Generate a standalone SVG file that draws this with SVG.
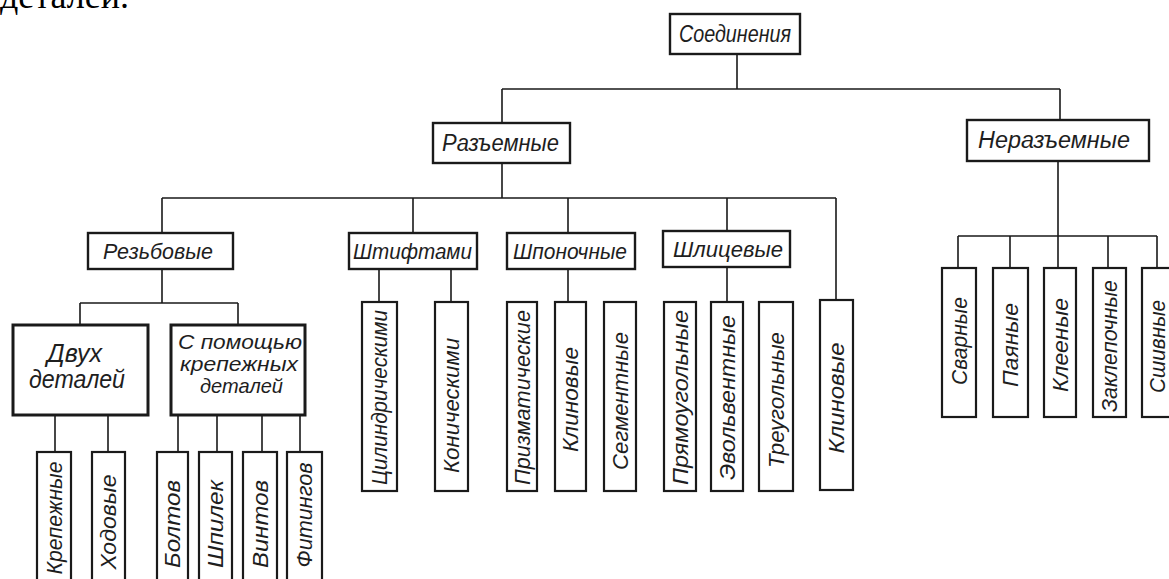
<svg xmlns="http://www.w3.org/2000/svg" width="1169" height="579" viewBox="0 0 1169 579">
<style>
.box{fill:#fff;stroke:#1a1a1a;stroke-width:2.4}
.bx{fill:#fff;stroke:#1a1a1a;stroke-width:3}
.lf{fill:#fff;stroke:#1a1a1a;stroke-width:2.2}
.c{fill:none;stroke:#1a1a1a;stroke-width:1.6}
.t{font-family:"Liberation Sans","DejaVu Sans",sans-serif;font-style:italic;fill:#1e1e1e;text-anchor:middle}
.v{dominant-baseline:central}
</style>
<rect width="1169" height="579" fill="#fff"/>
<text x="0" y="8" font-family="Liberation Serif, serif" font-size="36" fill="#000">деталей.</text>

<g id="connectors">
<path class="c" d="M737,54V89M502,89H1060M502,89V123M1060,89V120"/>
<path class="c" d="M502,163V198M162,198H836M162,198V233M413,198V233M568,198V233M727,198V231M836,198V300"/>
<path class="c" d="M162,269V303M80,303H238M80,303V325M238,303V325"/>
<path class="c" d="M55,415V452M108,415V452M178,415V452M217,415V452M262,415V452M300,415V452"/>
<path class="c" d="M379,269V302M451,269V302M568,269V302M727,267V302"/>
<path class="c" d="M1058,161V236M958,236H1157M958,236V268M1010,236V268M1058,236V268M1108,236V268M1157,236V268"/>
</g>

<g id="n-root"><rect class="box" x="670" y="14" width="130" height="40"/><text class="t" font-size="23" x="735" y="42" textLength="112" lengthAdjust="spacingAndGlyphs">Соединения</text></g>
<g id="n-razem"><rect class="box" x="433" y="123" width="137" height="40"/><text class="t" font-size="23" x="500.5" y="151" textLength="117" lengthAdjust="spacingAndGlyphs">Разъемные</text></g>
<g id="n-nerazem"><rect class="box" x="967" y="120" width="182" height="41"/><text class="t" font-size="23" x="1054" y="148" textLength="152" lengthAdjust="spacingAndGlyphs">Неразъемные</text></g>

<g id="n-rezb"><rect class="box" x="88" y="233" width="145" height="36"/><text class="t" font-size="22" x="158" y="259" textLength="110" lengthAdjust="spacingAndGlyphs">Резьбовые</text></g>
<g id="n-shtift"><rect class="box" x="349" y="233" width="128" height="36"/><text class="t" font-size="22" x="412.5" y="259" textLength="119" lengthAdjust="spacingAndGlyphs">Штифтами</text></g>
<g id="n-shpon"><rect class="box" x="507" y="233" width="128" height="36"/><text class="t" font-size="22" x="570" y="259" textLength="114" lengthAdjust="spacingAndGlyphs">Шпоночные</text></g>
<g id="n-shlic"><rect class="box" x="663" y="231" width="127" height="36"/><text class="t" font-size="22" x="728" y="257" textLength="110" lengthAdjust="spacingAndGlyphs">Шлицевые</text></g>

<g id="n-dvuh"><rect class="bx" x="13" y="325" width="135" height="90"/><text class="t" font-size="25" x="74.5" y="362" textLength="55" lengthAdjust="spacingAndGlyphs">Двух</text><text class="t" font-size="25" x="77" y="388" textLength="96" lengthAdjust="spacingAndGlyphs">деталей</text></g>
<g id="n-spom"><rect class="bx" x="171" y="325" width="134" height="90"/><text class="t" font-size="21" x="240" y="349" textLength="124" lengthAdjust="spacingAndGlyphs">С помощью</text><text class="t" font-size="21" x="239" y="371" textLength="118" lengthAdjust="spacingAndGlyphs">крепежных</text><text class="t" font-size="21" x="241.5" y="393" textLength="83" lengthAdjust="spacingAndGlyphs">деталей</text></g>

<g id="n-krep"><rect class="lf" x="37" y="452" width="34" height="140"/><text class="t v" font-size="22" transform="translate(54,518) rotate(-90)" textLength="113" lengthAdjust="spacingAndGlyphs">Крепежные</text></g>
<g id="n-hod"><rect class="lf" x="92" y="452" width="33" height="140"/><text class="t v" font-size="22" transform="translate(108.5,522) rotate(-90)" textLength="95" lengthAdjust="spacingAndGlyphs">Ходовые</text></g>
<g id="n-bolt"><rect class="lf" x="157" y="452" width="31" height="140"/><text class="t v" font-size="22" transform="translate(172.5,524) rotate(-90)" textLength="88" lengthAdjust="spacingAndGlyphs">Болтов</text></g>
<g id="n-shpil"><rect class="lf" x="199" y="452" width="33" height="140"/><text class="t v" font-size="22" transform="translate(215.5,524) rotate(-90)" textLength="88" lengthAdjust="spacingAndGlyphs">Шпилек</text></g>
<g id="n-vint"><rect class="lf" x="243" y="452" width="34" height="140"/><text class="t v" font-size="22" transform="translate(260,524) rotate(-90)" textLength="88" lengthAdjust="spacingAndGlyphs">Винтов</text></g>
<g id="n-fit"><rect class="lf" x="287" y="452" width="35" height="140"/><text class="t v" font-size="22" transform="translate(304.5,515) rotate(-90)" textLength="105" lengthAdjust="spacingAndGlyphs">Фитингов</text></g>

<g id="n-cil"><rect class="lf" x="362" y="302" width="35" height="189"/><text class="t v" font-size="22" transform="translate(379.5,397.5) rotate(-90)" textLength="175" lengthAdjust="spacingAndGlyphs">Цилиндрическими</text></g>
<g id="n-kon"><rect class="lf" x="435" y="302" width="33" height="189"/><text class="t v" font-size="22" transform="translate(451.5,405.5) rotate(-90)" textLength="135" lengthAdjust="spacingAndGlyphs">Коническими</text></g>
<g id="n-prizm"><rect class="lf" x="507" y="302" width="30" height="189"/><text class="t v" font-size="22" transform="translate(522,397.5) rotate(-90)" textLength="175" lengthAdjust="spacingAndGlyphs">Призматические</text></g>
<g id="n-klin1"><rect class="lf" x="555" y="302" width="31" height="189"/><text class="t v" font-size="22" transform="translate(570.5,399.5) rotate(-90)" textLength="105" lengthAdjust="spacingAndGlyphs">Клиновые</text></g>
<g id="n-segm"><rect class="lf" x="604" y="302" width="32" height="189"/><text class="t v" font-size="22" transform="translate(620,401) rotate(-90)" textLength="138" lengthAdjust="spacingAndGlyphs">Сегментные</text></g>
<g id="n-pryam"><rect class="lf" x="664" y="302" width="32" height="189"/><text class="t v" font-size="22" transform="translate(680,397.5) rotate(-90)" textLength="175" lengthAdjust="spacingAndGlyphs">Прямоугольные</text></g>
<g id="n-evol"><rect class="lf" x="711" y="302" width="32" height="189"/><text class="t v" font-size="22" transform="translate(727,397.5) rotate(-90)" textLength="165" lengthAdjust="spacingAndGlyphs">Эвольвентные</text></g>
<g id="n-treug"><rect class="lf" x="759" y="302" width="34" height="189"/><text class="t v" font-size="22" transform="translate(776,400) rotate(-90)" textLength="136" lengthAdjust="spacingAndGlyphs">Треугольные</text></g>
<g id="n-klin2"><rect class="lf" x="820" y="300" width="33" height="190"/><text class="t v" font-size="22" transform="translate(836.5,398) rotate(-90)" textLength="111" lengthAdjust="spacingAndGlyphs">Клиновые</text></g>

<g id="n-svar"><rect class="lf" x="942" y="268" width="34" height="149"/><text class="t v" font-size="22" transform="translate(959,341) rotate(-90)" textLength="88" lengthAdjust="spacingAndGlyphs">Сварные</text></g>
<g id="n-payan"><rect class="lf" x="993" y="268" width="35" height="149"/><text class="t v" font-size="22" transform="translate(1010.5,345) rotate(-90)" textLength="84" lengthAdjust="spacingAndGlyphs">Паяные</text></g>
<g id="n-kleen"><rect class="lf" x="1044" y="268" width="32" height="149"/><text class="t v" font-size="22" transform="translate(1060,345) rotate(-90)" textLength="94" lengthAdjust="spacingAndGlyphs">Клееные</text></g>
<g id="n-zakl"><rect class="lf" x="1093" y="268" width="33" height="149"/><text class="t v" font-size="22" transform="translate(1109.5,346) rotate(-90)" textLength="132" lengthAdjust="spacingAndGlyphs">Заклепочные</text></g>
<g id="n-shiv"><rect class="lf" x="1142" y="268" width="34" height="149"/><text class="t v" font-size="22" transform="translate(1157,346.5) rotate(-90)" textLength="93" lengthAdjust="spacingAndGlyphs">Сшивные</text></g>
</svg>
